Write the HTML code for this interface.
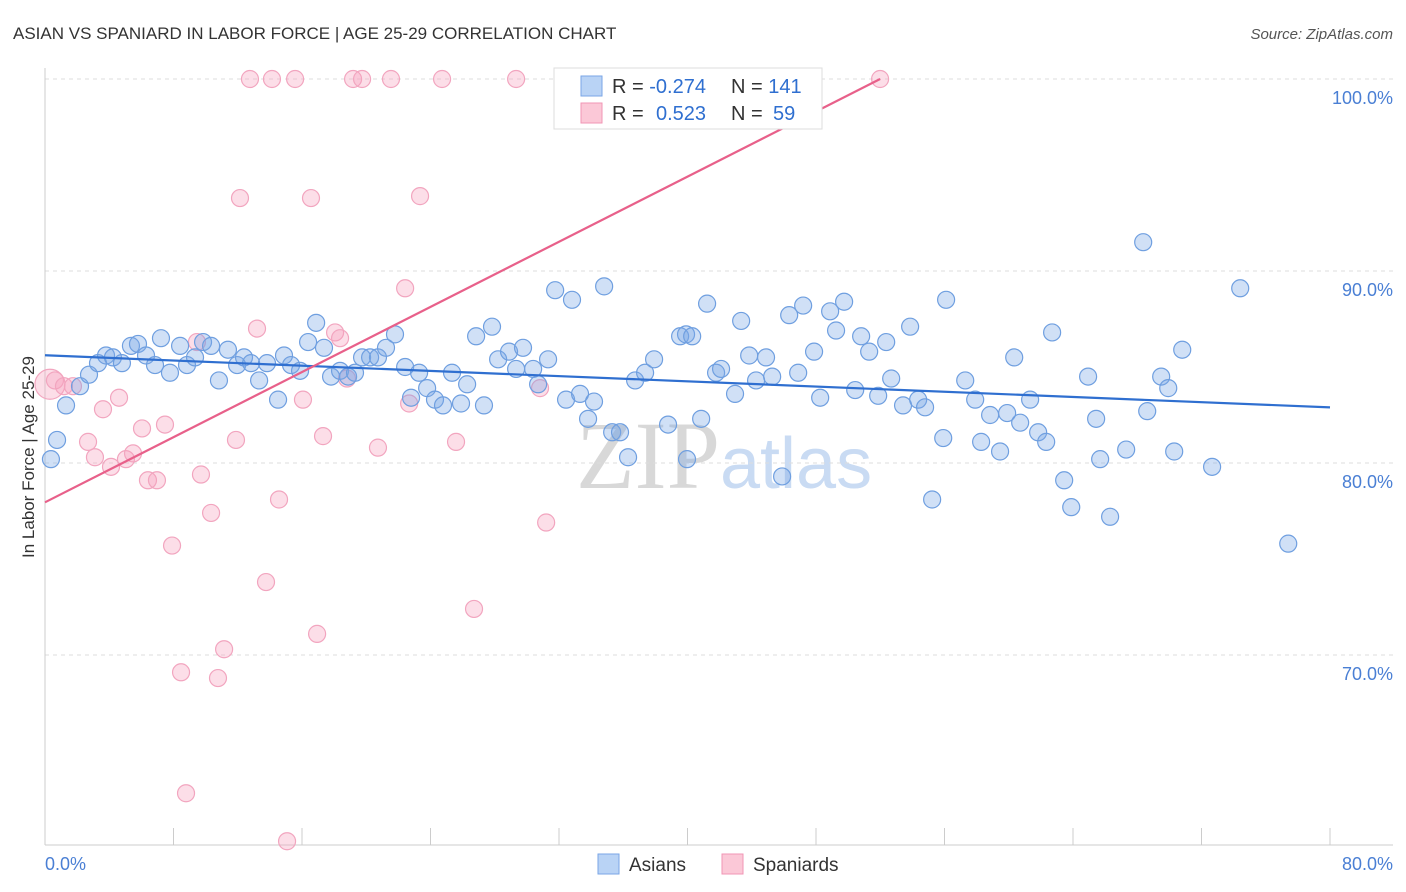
<!DOCTYPE html>
<html><head><meta charset="utf-8"><style>
body{margin:0;background:#fff;font-family:"Liberation Sans",sans-serif;}
#wrap{position:relative;width:1406px;height:892px;overflow:hidden;}
</style></head><body>
<div id="wrap">
<svg id="svg" width="1406" height="892" xmlns="http://www.w3.org/2000/svg">
<text x="13" y="39" font-size="17" fill="#333">ASIAN VS SPANIARD IN LABOR FORCE | AGE 25-29 CORRELATION CHART</text>
<text x="1393" y="39" font-size="15" fill="#555" font-style="italic" text-anchor="end">Source: ZipAtlas.com</text>
<text x="720" y="488" font-size="96" fill="#d8d8d8" text-anchor="end" font-family="Liberation Serif,serif">ZIP</text>
<text x="720" y="488" font-size="72" fill="#c9dbf3">atlas</text>
<g id="grid"></g><g id="pts"></g><g id="lines"></g>
<text transform="translate(34,457) rotate(-90)" font-size="17" fill="#333" text-anchor="middle">In Labor Force | Age 25-29</text>
<text x="45" y="870" font-size="18" fill="#4a7fd4">0.0%</text>
<text x="1393" y="870" font-size="18" fill="#4a7fd4" text-anchor="end">80.0%</text>
<g>
<rect x="554" y="68" width="268" height="61" fill="#fff" stroke="#ddd"/>
<rect x="581" y="76" width="21" height="20" fill="#b9d3f5" stroke="#7aa6e6"/>
<rect x="581" y="103" width="21" height="20" fill="#fbc8d7" stroke="#f096b4"/>
<text x="612" y="93" font-size="20" fill="#333">R = <tspan fill="#2f6fd0">-0.274</tspan></text>
<text x="731" y="93" font-size="20" fill="#333">N = <tspan fill="#2f6fd0">141</tspan></text>
<text x="612" y="120" font-size="20" fill="#333">R = <tspan fill="#2f6fd0" x="656">0.523</tspan></text>
<text x="731" y="120" font-size="20" fill="#333">N = <tspan fill="#2f6fd0" x="773">59</tspan></text>
</g>
<g><rect x="598" y="854" width="21" height="20" fill="#b9d3f5" stroke="#7aa6e6"/><text x="629" y="871" font-size="19" fill="#333">Asians</text></g>
<g><rect x="722" y="854" width="21" height="20" fill="#fbc8d7" stroke="#f096b4"/><text x="753" y="871" font-size="19" fill="#333">Spaniards</text></g>
</svg>
</div>
<script>
const yTicks=[100,90,80,70];
const yTickLabels=["100.0%","90.0%","80.0%","70.0%"];
const xTicks=[0,8,16,24,32,40,48,56,64,72,80];
const asianX=[0.75,0.37,1.31,2.18,2.74,3.30,3.80,4.23,4.79,5.35,5.79,6.29,6.85,7.22,7.78,8.41,8.84,9.34,9.84,10.34,10.83,11.39,11.96,12.39,12.83,13.33,13.82,14.51,14.88,15.32,15.88,16.38,16.88,17.37,17.81,18.37,18.87,19.30,19.74,20.24,20.73,21.23,21.79,22.42,22.79,23.29,23.79,24.28,24.78,25.34,25.90,26.28,26.84,27.33,27.83,28.21,28.89,29.33,29.76,30.39,30.70,31.32,31.76,32.44,32.81,33.31,33.81,34.18,34.81,35.31,35.80,36.30,36.74,37.36,37.92,38.79,39.54,39.91,40.29,39.97,40.85,41.22,41.78,42.09,42.96,43.34,43.84,44.27,44.89,45.27,45.89,46.33,46.89,47.20,47.88,48.26,48.88,49.25,49.75,50.44,50.81,51.31,51.87,52.37,52.68,53.42,53.86,54.36,54.79,55.23,55.92,56.10,57.29,57.91,58.28,58.84,59.46,59.90,60.34,60.71,61.33,61.83,62.33,62.70,63.45,63.89,64.94,65.44,65.69,66.31,67.31,68.37,68.62,69.49,69.93,70.30,70.80,72.66,74.41,77.40];
const asianY=[81.2,80.2,83.0,84.0,84.6,85.2,85.6,85.5,85.2,86.1,86.2,85.6,85.1,86.5,84.7,86.1,85.1,85.5,86.3,86.1,84.3,85.9,85.1,85.5,85.2,84.3,85.2,83.3,85.6,85.1,84.8,86.3,87.3,86.0,84.5,84.8,84.5,84.7,85.5,85.5,85.5,86.0,86.7,85.0,83.4,84.7,83.9,83.3,83.0,84.7,83.1,84.1,86.6,83.0,87.1,85.4,85.8,84.9,86.0,84.9,84.1,85.4,89.0,83.3,88.5,83.6,82.3,83.2,89.2,81.6,81.6,80.3,84.3,84.7,85.4,82.0,86.6,86.7,86.6,80.2,82.3,88.3,84.7,84.9,83.6,87.4,85.6,84.3,85.5,84.5,79.3,87.7,84.7,88.2,85.8,83.4,87.9,86.9,88.4,83.8,86.6,85.8,83.5,86.3,84.4,83.0,87.1,83.3,82.9,78.1,81.3,88.5,84.3,83.3,81.1,82.5,80.6,82.6,85.5,82.1,83.3,81.6,81.1,86.8,79.1,77.7,84.5,82.3,80.2,77.2,80.7,91.5,82.7,84.5,83.9,80.6,85.9,79.8,89.1,75.8];
const spanX=[12.76,14.13,15.57,19.18,19.74,21.54,24.72,29.33,41.72,45.39,47.38,47.51,51.99,12.14,16.56,23.35,22.42,0.31,0.62,1.18,1.74,2.68,3.11,3.61,4.11,4.61,5.04,5.48,6.04,6.41,6.97,7.47,7.91,8.47,8.78,9.46,9.71,10.34,11.15,10.77,11.89,13.20,13.76,14.57,15.07,16.06,16.94,17.31,18.06,18.37,18.80,20.73,22.67,25.59,26.71,30.82,31.20];
const spanY=[100,100,100,100,100,100,100,100,100,100,100,100,100,93.8,93.8,93.9,89.1,84.1,84.3,84.0,84.0,81.1,80.3,82.8,79.8,83.4,80.2,80.5,81.8,79.1,79.1,82.0,75.7,69.1,62.8,86.3,79.4,77.4,70.3,68.8,81.2,87.0,73.8,78.1,60.3,83.3,71.1,81.4,86.8,86.5,84.4,80.8,83.1,81.1,72.4,83.9,76.9];
const X0=45,X1=1330,YTOP=79,PX_PER=19.2;
const sx=v=>X0+(X1-X0)*v/80;
const sy=v=>YTOP+(100-v)*PX_PER;
const NS="http://www.w3.org/2000/svg";
function mk(t,a,p){const e=document.createElementNS(NS,t);for(const k in a)e.setAttribute(k,a[k]);p.appendChild(e);return e;}
const grid=document.getElementById('grid');
yTicks.forEach((t,i)=>{
 const l=mk('line',{x1:X0,x2:1393,y1:sy(t),y2:sy(t),stroke:'#ddd','stroke-dasharray':'4,4'},grid);
 
 
 const tx=mk('text',{x:1393,y:sy(t)+25,'font-size':18,fill:'#4a7fd4','text-anchor':'end'},grid);
 tx.textContent=yTickLabels[i];
 
 
});
const ax=mk('line',{x1:X0,x2:1393,y1:845,y2:845,stroke:'#ccc'},grid);


const ay=mk('line',{x1:X0,x2:X0,y1:68,y2:845,stroke:'#ccc'},grid);


xTicks.forEach(t=>{
 const l=mk('line',{x1:sx(t),x2:sx(t),y1:828,y2:845,stroke:'#ccc'},grid);
 
 
});
const pts=document.getElementById('pts');
function draw(xs,ys,fill,stroke,name){
 xs.forEach((x,i)=>{
  const big=(name==='spaniard-point'&&i===17);
  const c=mk('circle',{cx:sx(x),cy:sy(ys[i]),r:big?15:8.5,fill:fill,stroke:stroke,'stroke-width':1.2},pts);
  
  
 });
}
draw(spanX,spanY,'rgba(245,160,190,0.35)','#f2a5bf','spaniard-point');
draw(asianX,asianY,'rgba(120,165,230,0.35)','#6f9fe0','asian-point');
function ols(xs,ys){const n=xs.length;let mx=0,my=0;xs.forEach((x,i)=>{mx+=x;my+=ys[i];});mx/=n;my/=n;let sxy=0,sxx=0;xs.forEach((x,i)=>{sxy+=(x-mx)*(ys[i]-my);sxx+=(x-mx)*(x-mx);});const b=sxy/sxx;return [my-b*mx,b];}
const lines=document.getElementById('lines');
const [a1,b1]=ols(asianX,asianY);
const bl=mk('line',{x1:sx(0),y1:sy(a1),x2:sx(80),y2:sy(a1+b1*80),stroke:'#2f6fd0','stroke-width':2.2},lines);


const [a2,b2]=ols(spanX,spanY);
const xEnd=Math.min(80,(100-a2)/b2);
const pl=mk('line',{x1:sx(0),y1:sy(a2),x2:sx(xEnd),y2:sy(a2+b2*xEnd),stroke:'#e8608a','stroke-width':2.2},lines);


</script>
</body></html>
